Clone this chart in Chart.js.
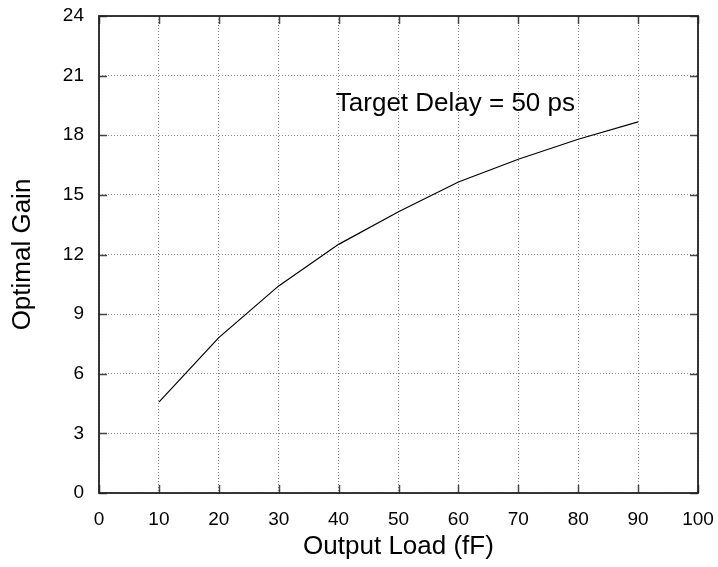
<!DOCTYPE html>
<html>
<head>
<meta charset="utf-8">
<script src="https://cdn.jsdelivr.net/npm/chart.js@4.4.0/dist/chart.umd.min.js"></script>
<style>
  html, body { margin: 0; padding: 0; background: #fff; }
  #wrap { width: 718px; height: 567px; }
</style>
</head>
<body>
<div id="wrap"><canvas id="gainChart" width="718" height="567"></canvas></div>
<script>
// Output load (fF) vs optimal gain at a fixed target delay
const loads = [10, 20, 30, 40, 50, 60, 70, 80, 90];
const gains = [4.57, 7.82, 10.42, 12.51, 14.15, 15.65, 16.79, 17.80, 18.67];

const xTicks = { min: 0, max: 100, step: 10 };
const yTicks = { min: 0, max: 24, step: 3 };

const noteText = 'Target Delay = 50 ps';
const notePos = { x: 59.5, y: 19.2 };

const FONT = 'Liberation Sans, Arial, Helvetica, sans-serif';

// frame around the plot + inward tick marks on all four sides, and the note
const framePlugin = {
  id: 'frame',
  afterDatasetsDraw(chart) {
    const { ctx, chartArea: a, scales } = chart;
    const xs = scales.x, ys = scales.y;
    const tl = 8;
    ctx.save();
    ctx.strokeStyle = '#444';
    ctx.lineWidth = 1.5;
    ctx.beginPath();
    xs.ticks.forEach(t => {
      const px = Math.round(xs.getPixelForValue(t.value)) + 0.5;
      ctx.moveTo(px, a.bottom); ctx.lineTo(px, a.bottom - tl);
      ctx.moveTo(px, a.top); ctx.lineTo(px, a.top + tl);
    });
    ys.ticks.forEach(t => {
      const py = Math.round(ys.getPixelForValue(t.value)) + 0.5;
      ctx.moveTo(a.left, py); ctx.lineTo(a.left + tl, py);
      ctx.moveTo(a.right, py); ctx.lineTo(a.right - tl, py);
    });
    ctx.stroke();

    ctx.strokeStyle = '#222';
    ctx.lineWidth = 1.8;
    ctx.strokeRect(a.left, a.top, a.right - a.left, a.bottom - a.top);

    ctx.fillStyle = '#000';
    ctx.font = '26px ' + FONT;
    ctx.textAlign = 'center';
    ctx.textBaseline = 'alphabetic';
    ctx.fillText(noteText, xs.getPixelForValue(notePos.x), ys.getPixelForValue(notePos.y));
    ctx.restore();
  }
};

new Chart(document.getElementById('gainChart'), {
  type: 'line',
  data: {
    datasets: [{
      data: loads.map((x, i) => ({ x: x, y: gains[i] })),
      borderColor: '#000',
      borderWidth: 1.2,
      pointRadius: 0,
      tension: 0,
      fill: false
    }]
  },
  options: {
    responsive: false,
    animation: false,
    layout: { padding: { top: 16, right: 20, left: 0, bottom: 0 } },
    plugins: { legend: { display: false }, tooltip: { enabled: false } },
    scales: {
      x: {
        type: 'linear',
        min: xTicks.min, max: xTicks.max,
        ticks: { stepSize: xTicks.step, color: '#000', font: { family: FONT, size: 19 }, padding: 15, maxRotation: 0 },
        grid: { color: '#8a8a8a', lineWidth: 1, drawTicks: false },
        border: { display: false, dash: [1, 2] },
        title: { display: true, text: 'Output Load (fF)', color: '#000', font: { family: FONT, size: 26 }, padding: { top: 0, bottom: 5 } },
        afterFit(scale) {
          scale.height = 74;
          scale.paddingLeft = 0;
          scale.paddingRight = 0;
        }
      },
      y: {
        min: yTicks.min, max: yTicks.max,
        ticks: { stepSize: yTicks.step, color: '#000', font: { family: FONT, size: 19 }, padding: 15 },
        grid: { color: '#8a8a8a', lineWidth: 1, drawTicks: false },
        border: { display: false, dash: [1, 2] },
        title: { display: true, text: 'Optimal Gain', color: '#000', font: { family: FONT, size: 26 }, padding: { top: 7, bottom: 0 } },
        afterFit(scale) {
          scale.width = 99;
          scale.paddingTop = 0;
          scale.paddingBottom = 0;
        }
      }
    }
  },
  plugins: [framePlugin]
});
</script>
</body>
</html>
